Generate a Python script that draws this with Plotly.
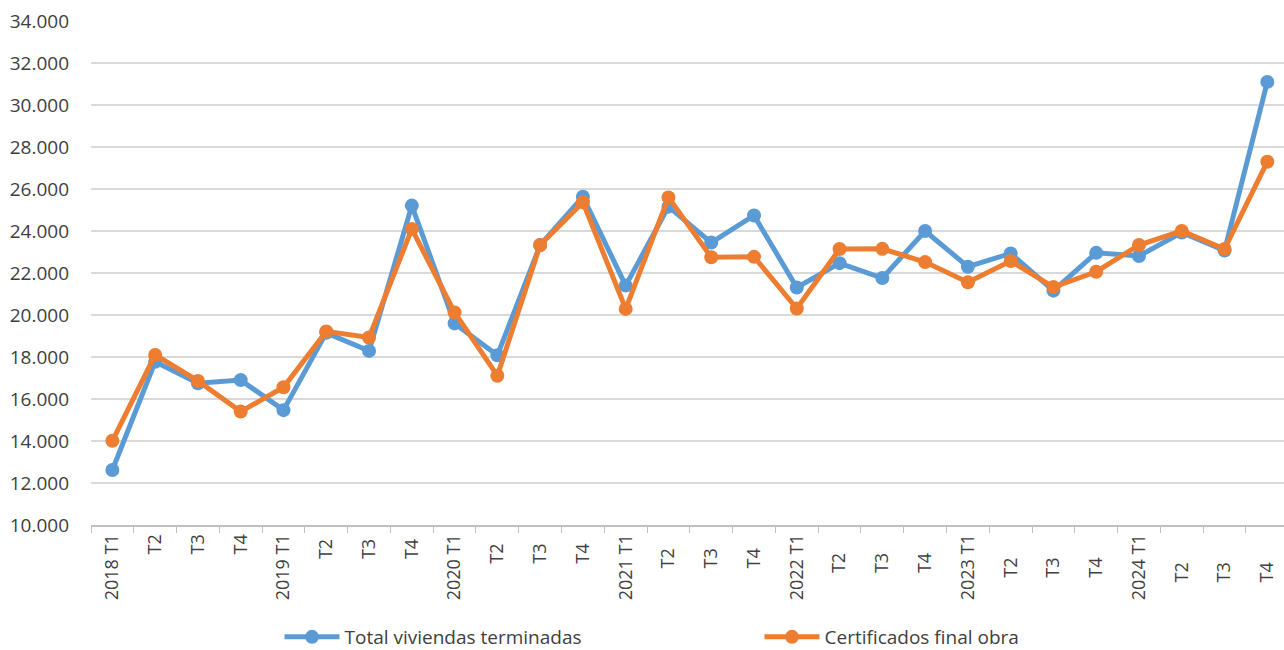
import plotly.graph_objects as go

categories = ["2018 T1", "T2", "T3", "T4",
              "2019 T1", "T2 ", "T3 ", "T4 ",
              "2020 T1", "T2  ", "T3  ", "T4  ",
              "2021 T1", "T2   ", "T3   ", "T4   ",
              "2022 T1", "T2    ", "T3    ", "T4    ",
              "2023 T1", "T2     ", "T3     ", "T4     ",
              "2024 T1", "T2      ", "T3      ", "T4      "]

total_viviendas = [12620, 17770, 16750, 16900, 15470, 19150, 18290, 25210,
                   19600, 18080, 23330, 25630, 21400, 25160, 23450, 24740,
                   21310, 22470, 21760, 24000, 22300, 22930, 21160, 22960,
                   22810, 23930, 23070, 31100]

certificados = [14010, 18100, 16860, 15400, 16560, 19220, 18930, 24100,
                20120, 17110, 23330, 25370, 20290, 25600, 22750, 22770,
                20310, 23140, 23150, 22520, 21560, 22570, 21330, 22060,
                23330, 24000, 23140, 27300]

y_ticks = list(range(10000, 34001, 2000))

BLUE = "#5B9BD5"
ORANGE = "#ED7D31"
FONT = "Open Sans"

fig = go.Figure()
fig.add_trace(go.Scatter(
    x=categories, y=total_viviendas, name="Total viviendas terminadas",
    mode="lines+markers", line=dict(color=BLUE, width=5),
    marker=dict(color=BLUE, size=14)))
fig.add_trace(go.Scatter(
    x=categories, y=certificados, name="Certificados final obra",
    mode="lines+markers", line=dict(color=ORANGE, width=5),
    marker=dict(color=ORANGE, size=14)))

fig.update_layout(
    width=1284, height=650,
    margin=dict(l=91, r=0, t=21, b=125, autoexpand=False),
    paper_bgcolor="white", plot_bgcolor="white",
    separators=",.",
    font=dict(family=FONT, color="#404040", size=18),
    showlegend=True,
    legend=dict(orientation="h", x=0.158, xanchor="left",
                y=0.02, yref="container", yanchor="middle",
                font=dict(family=FONT, size=19, color="#404040"),
                entrywidth=410, entrywidthmode="pixels",
                itemwidth=55, traceorder="normal"),
    xaxis=dict(type="category", range=[-0.5, 27.39], automargin=False,
               tickangle=-90, tickson="boundaries", ticks="outside",
               ticklen=6, tickcolor="#BFBFBF", showline=True, linecolor="#BFBFBF",
               linewidth=2, showgrid=False, tickfont=dict(size=18, family=FONT),
               fixedrange=True),
    yaxis=dict(range=[10000, 34000], tickvals=y_ticks, tickformat=",.0f",
               automargin=False,
               showgrid=True, gridcolor="#D9D9D9", gridwidth=2,
               zeroline=False, showline=False, ticks="",
               ticklabelstandoff=21,
               tickfont=dict(size=19, family=FONT), fixedrange=True),
)

fig.write_html("out.html", config={"displayModeBar": False},
               post_script="document.body.style.margin='0px';document.body.style.overflow='hidden';")
